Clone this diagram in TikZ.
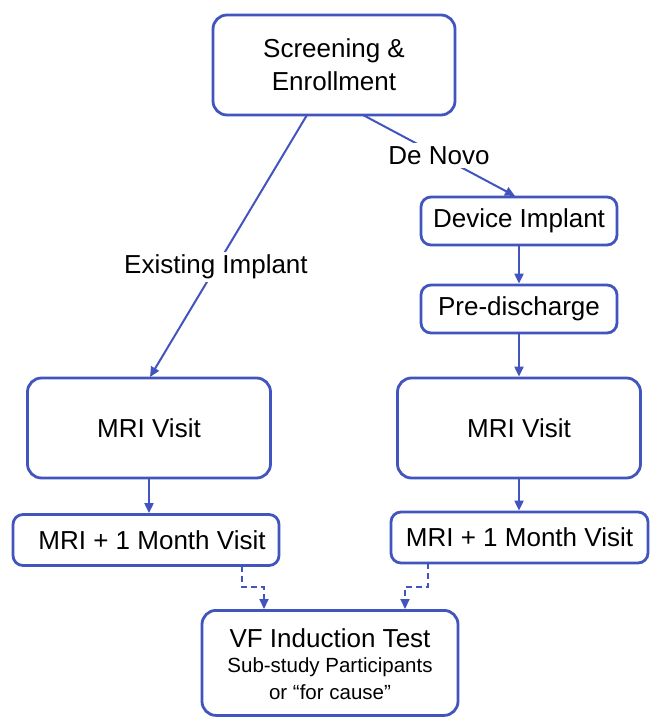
\documentclass[tikz,border=0pt]{standalone}
\usepackage{fontspec}
\setmainfont{Liberation Sans}
\usetikzlibrary{arrows.meta}
\definecolor{fc}{RGB}{66,84,190}
\begin{document}
\begin{tikzpicture}[x=1pt,y=-1pt,
  box/.style={draw=fc,line width=2.8pt,rounded corners=14pt,fill=white,inner sep=0pt,align=center,font=\fontsize{26}{33}\selectfont},
  conn/.style={draw=fc,line width=2pt,-{Triangle[length=10pt,width=9pt]}},
  dconn/.style={conn,dash pattern=on 6pt off 4pt},
  lbl/.style={fill=white,inner sep=3pt,font=\fontsize{26}{30}\selectfont},
  sub/.style={font=\fontsize{20.5}{24}\selectfont,inner sep=0pt}]
\useasboundingbox (0,0) rectangle (656,717);
\node[box,minimum width=242pt,minimum height=100pt] (scr) at (334,65) {Screening \&\\Enrollment};
\node[box,minimum width=196pt,minimum height=48pt,rounded corners=10pt] (dev) at (519,221) {Device Implant};
\node[box,minimum width=196pt,minimum height=48pt,rounded corners=10pt] (pre) at (519,309) {Pre-discharge};
\node[box,minimum width=243pt,minimum height=100pt] (mril) at (149,428) {MRI Visit};
\node[box,minimum width=243pt,minimum height=100pt] (mrir) at (519,428) {MRI Visit};
\node[box,minimum width=266pt,minimum height=51pt,rounded corners=10pt] (mol) at (146,540) {\hspace*{12pt}MRI + 1 Month Visit};
\node[box,minimum width=257pt,minimum height=51pt,rounded corners=10pt] (mor) at (519.5,537.5) {MRI + 1 Month Visit};
\node[box,minimum width=256pt,minimum height=105pt,anchor=north] (vf) at (330,609) {};
\node[font=\fontsize{26}{30}\selectfont] (vft) at (330,638) {VF Induction Test};
\node[sub] (vfs) at (330,667) {Sub-study Participants};
\node[sub] (vfc) at (330,692) {or “for cause”};
% connectors
\coordinate (s1) at (307,115);
\coordinate (s2) at (363,115);
\draw[conn] (s1) -- (150,377) node[pos=0.58,lbl] (ei) {Existing Implant};
\draw[conn] (s2) -- (515,196) node[pos=0.50,lbl] (dn) {De Novo};
\draw[conn] (dev.south) -- (pre.north);
\draw[conn] (pre.south) -- (pre.south |- mrir.north);
\draw[conn] (mril.south) -- (mol.north -| mril.south);
\draw[conn] (mrir.south -| pre.south) -- (mor.north -| pre.south);
\coordinate (dl) at (242,565.5);
\coordinate (dr) at (428,563);
\draw[dconn] (dl) -- (242,587) -- (264,587) -- (264,609);
\draw[dconn] (dr) -- (428,587) -- (405,587) -- (405,609);
\end{tikzpicture}
\end{document}
